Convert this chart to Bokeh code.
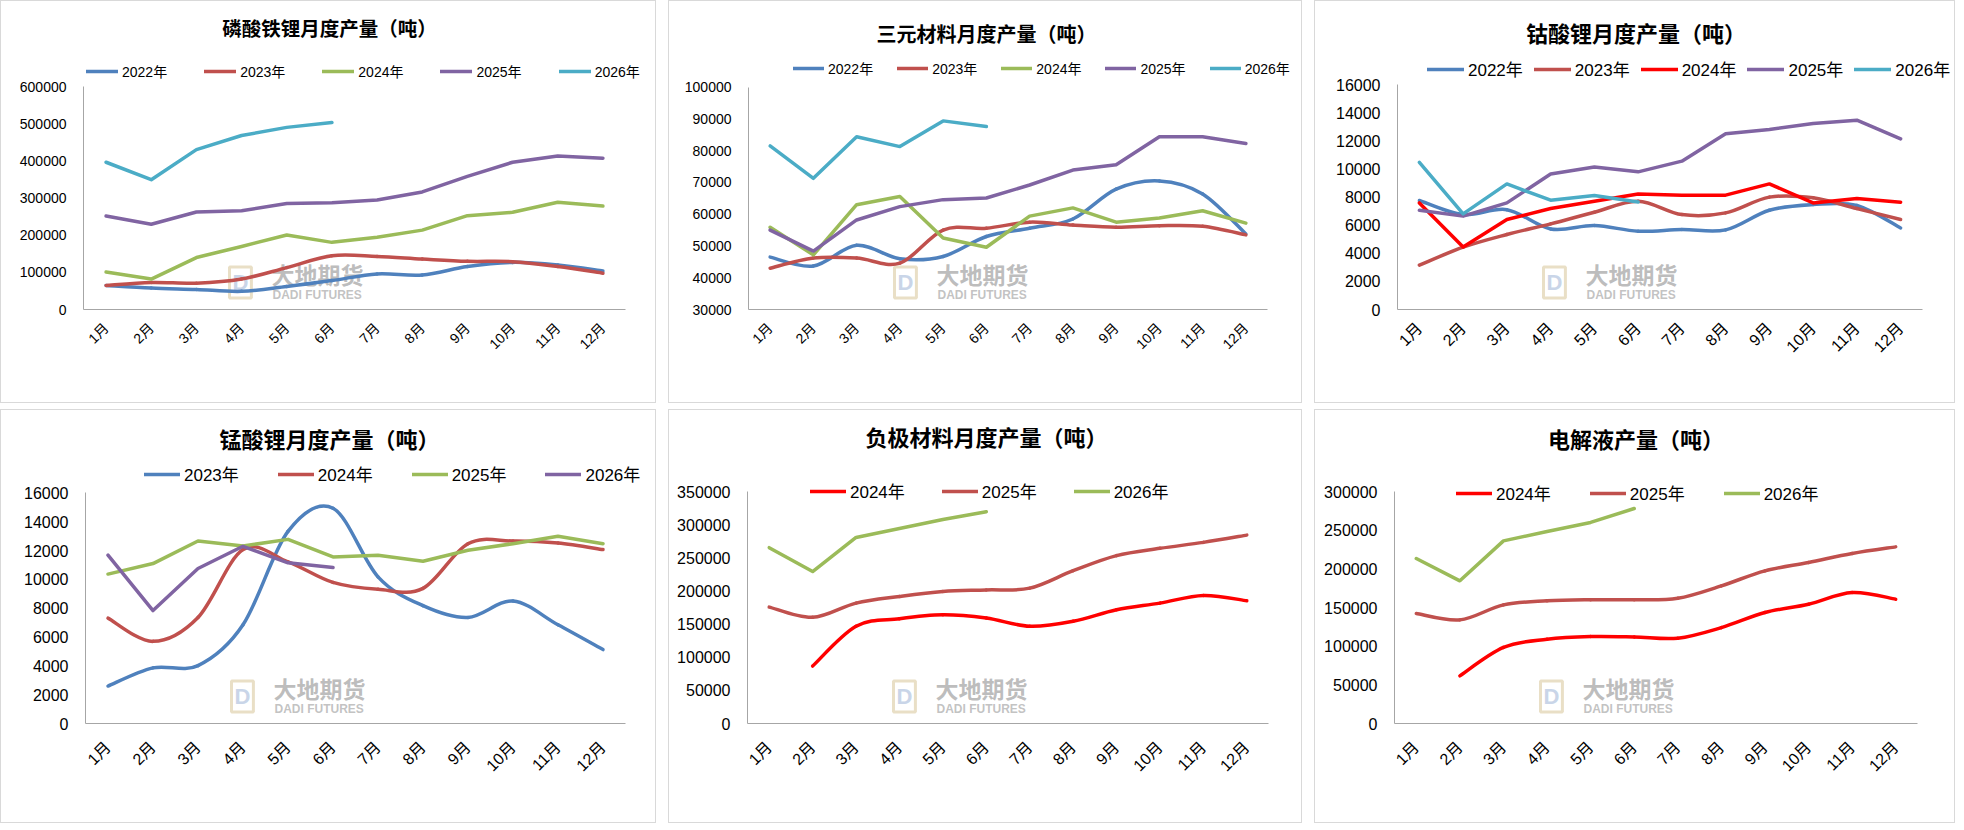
import math
from bokeh.plotting import figure
from bokeh.models import (Range1d, FixedTicker, NumeralTickFormatter, Label,
                          Legend, LegendItem, ColumnDataSource)
from bokeh.layouts import row, column
from bokeh.embed import file_html
from bokeh.resources import INLINE

months = ["1月", "2月", "3月", "4月", "5月", "6月", "7月", "8月", "9月", "10月", "11月", "12月"]

# 磷酸铁锂月度产量
lfp_years = ["2022年", "2023年", "2024年", "2025年", "2026年"]
lfp_2022 = [65000, 58000, 54000, 49000, 62000, 78000, 96000, 93000, 116000, 127000, 120000, 104000]
lfp_2023 = [65000, 73000, 71000, 82000, 113000, 145000, 143000, 136000, 130000, 129000, 116000, 98000]
lfp_2024 = [101000, 82000, 140000, 170000, 201000, 181000, 195000, 214000, 253000, 262000, 289000, 279000]
lfp_2025 = [252000, 230000, 263000, 266000, 286000, 288000, 295000, 317000, 359000, 397000, 414000, 408000]
lfp_2026 = [397000, 350000, 431000, 469000, 491000, 504000]
lfp_ticks = [0, 100000, 200000, 300000, 400000, 500000, 600000]

# 三元材料月度产量
ncm_years = ["2022年", "2023年", "2024年", "2025年", "2026年"]
ncm_2022 = [46500, 43700, 50200, 46000, 46700, 53000, 55600, 58500, 67900, 70500, 66400, 53800]
ncm_2023 = [43000, 46200, 46200, 44600, 55000, 55600, 57500, 56600, 55900, 56400, 56200, 53500]
ncm_2024 = [55900, 47200, 63000, 65600, 52500, 49600, 59400, 62000, 57500, 58800, 61100, 57200]
ncm_2025 = [55000, 48400, 58200, 62400, 64600, 65100, 69200, 73900, 75600, 84400, 84400, 82300]
ncm_2026 = [81500, 71300, 84400, 81300, 89400, 87600]
ncm_ticks = [30000, 40000, 50000, 60000, 70000, 80000, 90000, 100000]

# 钴酸锂月度产量
lco_years = ["2022年", "2023年", "2024年", "2025年", "2026年"]
lco_2022 = [7750, 6750, 7100, 5730, 5970, 5570, 5690, 5660, 7060, 7460, 7400, 5800]
lco_2023 = [3150, 4430, 5330, 6090, 6920, 7700, 6750, 6870, 7990, 7940, 7180, 6400]
lco_2024 = [7580, 4450, 6400, 7180, 7700, 8220, 8130, 8130, 8930, 7580, 7890, 7630]
lco_2025 = [7060, 6640, 7580, 9640, 10140, 9790, 10550, 12490, 12800, 13220, 13460, 12130]
lco_2026 = [10470, 6800, 8930, 7770, 8100, 7650]
lco_ticks = [0, 2000, 4000, 6000, 8000, 10000, 12000, 14000, 16000]

# 锰酸锂月度产量
lmo_years = ["2023年", "2024年", "2025年", "2026年"]
lmo_2023 = [2600, 3860, 4020, 6850, 13330, 14940, 10180, 8180, 7360, 8500, 6850, 5130]
lmo_2024 = [7310, 5700, 7360, 12070, 11220, 9790, 9310, 9380, 12480, 12670, 12530, 12070]
lmo_2025 = [10370, 11100, 12670, 12320, 12780, 11560, 11680, 11260, 12020, 12480, 12990, 12480]
lmo_2026 = [11680, 7840, 10760, 12300, 11150, 10830]
lmo_ticks = [0, 2000, 4000, 6000, 8000, 10000, 12000, 14000, 16000]

# 负极材料月度产量
anode_years = ["2024年", "2025年", "2026年"]
anode_2024 = [None, 86800, 147000, 158500, 164500, 159500, 147000, 154500, 172000, 182000, 193600, 185600]
anode_2025 = [176000, 160500, 182000, 192000, 199600, 202000, 204600, 231000, 253800, 264800, 273800, 284800]
anode_2026 = [265800, 229700, 281300, 294900, 308400, 320000]
anode_ticks = [0, 50000, 100000, 150000, 200000, 250000, 300000, 350000]

# 电解液产量
elec_years = ["2024年", "2025年", "2026年"]
elec_2024 = [None, 61600, 98300, 109000, 112500, 112000, 110300, 124000, 143500, 154300, 169400, 160800]
elec_2025 = [142200, 134000, 153400, 158600, 160000, 160000, 162000, 178000, 197400, 208200, 219800, 228400]
elec_2026 = [213400, 184500, 236200, 248300, 260000, 278000]
elec_ticks = [0, 50000, 100000, 150000, 200000, 250000, 300000]

BLUE = "#4F81BD"
RED = "#C0504D"
GREEN = "#9BBB59"
PURPLE = "#8064A2"
CYAN = "#4BACC6"
PURE_RED = "#FF0000"

NUM_FONT = "'Liberation Sans', 'Noto Sans CJK SC'"
CJK_FONT = "'Noto Sans CJK SC'"
LW = 3.5


def smooth_segments(xs, ys, k=1 / 6):
    # cubic bezier pieces through the points (Catmull-Rom style, like Excel smoothed lines)
    n = len(xs)
    seg = dict(x0=[], y0=[], x1=[], y1=[], cx0=[], cy0=[], cx1=[], cy1=[])
    for i in range(n - 1):
        a = max(i - 1, 0)
        b = min(i + 2, n - 1)
        seg["x0"].append(xs[i])
        seg["y0"].append(ys[i])
        seg["x1"].append(xs[i + 1])
        seg["y1"].append(ys[i + 1])
        seg["cx0"].append(xs[i] + (xs[i + 1] - xs[a]) * k)
        seg["cy0"].append(ys[i] + (ys[i + 1] - ys[a]) * k)
        seg["cx1"].append(xs[i + 1] - (xs[b] - xs[i]) * k)
        seg["cy1"].append(ys[i + 1] - (ys[b] - ys[i]) * k)
    return seg


def make_panel(title, years, series, colors, smooth, ticks, g):
    w, h, L, B, T, R = g["w"], g["h"], g["left"], g["bottom"], g["top"], g["right"]
    # the frame fills everything right of the y labels and above the x labels,
    # so that title and legend can sit inside it; the axes are bounded to the plot area
    ux = (w - R - L) / 12.0
    vy = (h - B - T) / float(ticks[-1] - ticks[0])
    p = figure(width=w, height=h, output_backend="svg", toolbar_location=None,
               x_range=Range1d(0.5, 12.5 + R / ux),
               y_range=Range1d(ticks[0], ticks[-1] + T / vy),
               min_border_left=L, min_border_right=0,
               min_border_top=0, min_border_bottom=B,
               background_fill_color="white", border_fill_color="white",
               styles={"border": "1px solid #d9d9d9"})
    p.outline_line_color = None
    p.xgrid.visible = False
    p.ygrid.visible = False

    fs = g["fs"]
    for ax in (p.xaxis, p.yaxis):
        ax.axis_line_color = "#a6a6a6"
        ax.axis_line_width = 1
        ax.major_tick_line_color = None
        ax.minor_tick_line_color = None
        ax.major_tick_out = 0
        ax.major_tick_in = 0
        ax.major_label_text_font = NUM_FONT
        ax.major_label_text_font_size = f"{fs}px"
        ax.major_label_text_color = "black"
    p.xaxis.ticker = FixedTicker(ticks=list(range(1, 13)))
    p.xaxis.major_label_overrides = {i + 1: m for i, m in enumerate(months)}
    p.xaxis.major_label_orientation = math.pi / 4
    p.xaxis.major_label_standoff = g["xs"]
    p.xaxis.bounds = (0.5, 12.5)
    p.yaxis.ticker = FixedTicker(ticks=ticks)
    p.yaxis.formatter = NumeralTickFormatter(format="0")
    p.yaxis.major_label_standoff = 17
    p.yaxis.bounds = (ticks[0], ticks[-1])

    # watermark
    p.add_layout(Label(x=146, y=27, x_units="screen", y_units="screen", text="D",
                       text_font="Liberation Sans", text_font_size="22px",
                       text_font_style="bold", text_color="#c9d5e8", text_baseline="middle",
                       border_line_color="#e9dfc6", border_line_width=3, padding=3,
                       level="underlay"))
    p.add_layout(Label(x=188, y=36, x_units="screen", y_units="screen", text="大地期货",
                       text_font=CJK_FONT, text_font_size="23px", text_font_style="bold",
                       text_color="#a0a0a0", text_alpha=0.7, text_baseline="middle",
                       level="underlay"))
    p.add_layout(Label(x=189, y=15, x_units="screen", y_units="screen", text="DADI FUTURES",
                       text_font="Liberation Sans", text_font_size="12px",
                       text_font_style="bold", text_color="#a8a8a8", text_alpha=0.7,
                       text_baseline="middle", level="underlay"))

    items = []
    for name, ys, col, sm in zip(years, series, colors, smooth):
        xs = [i + 1 for i, v in enumerate(ys) if v is not None]
        vs = [v for v in ys if v is not None]
        r = p.line(xs, vs, line_color=col, line_width=LW, line_cap="round", line_join="round")
        if sm:
            r.visible = False
            src = ColumnDataSource(smooth_segments(xs, vs))
            p.bezier(x0="x0", y0="y0", x1="x1", y1="y1", cx0="cx0", cy0="cy0",
                     cx1="cx1", cy1="cy1", source=src, line_color=col, line_width=LW,
                     line_cap="round")
        items.append(LegendItem(label=name, renderers=[r]))

    leg_h = 20
    legend = Legend(items=items, orientation="horizontal",
                    location=(g["lx"] - L, (h - B) - g["ly"] - leg_h / 2),
                    glyph_width=g["gw"], glyph_height=leg_h, label_height=leg_h,
                    label_standoff=4, spacing=g["sp"], padding=0, margin=0,
                    border_line_alpha=0, background_fill_alpha=0,
                    label_text_font=NUM_FONT, label_text_font_size=f"{g['lfs']}px",
                    label_text_color="black", label_text_baseline="middle")
    p.add_layout(legend, "center")

    p.add_layout(Label(x=w / 2 - L, y=(h - B) - g["ty"], x_units="screen",
                       y_units="screen", text=title, text_font=CJK_FONT,
                       text_font_size=f"{g['tfs']}px", text_font_style="bold",
                       text_color="black", text_align="center", text_baseline="middle"))
    return p


g1 = dict(w=656, h=403, left=82, right=32, top=86, bottom=93, fs=14, lfs=14, tfs=19.5,
          ty=28, ly=72, lx=85, gw=32, sp=37, xs=16)
g2 = dict(w=634, h=403, left=79, right=36, top=86, bottom=94, fs=14, lfs=14, tfs=20,
          ty=33, ly=68, lx=124, gw=31, sp=24, xs=16)
g3 = dict(w=641, h=403, left=82, right=34, top=83, bottom=95, fs=16, lfs=17, tfs=22,
          ty=30, ly=70, lx=112, gw=37, sp=11, xs=16)
g4 = dict(w=656, h=414, left=84, right=32, top=83, bottom=99, fs=16, lfs=17, tfs=22,
          ty=29, ly=68, lx=143, gw=36, sp=39, xs=21)
g5 = dict(w=634, h=414, left=78, right=35, top=82, bottom=99, fs=16, lfs=17, tfs=22,
          ty=27, ly=85, lx=141, gw=36, sp=37, xs=21)
g6 = dict(w=641, h=414, left=79, right=39, top=81, bottom=101, fs=16, lfs=17, tfs=22,
          ty=27, ly=85, lx=141, gw=36, sp=39, xs=21)

p1 = make_panel("磷酸铁锂月度产量（吨）", lfp_years,
                [lfp_2022, lfp_2023, lfp_2024, lfp_2025, lfp_2026],
                [BLUE, RED, GREEN, PURPLE, CYAN], [True, True, False, False, False], lfp_ticks, g1)
p2 = make_panel("三元材料月度产量（吨）", ncm_years,
                [ncm_2022, ncm_2023, ncm_2024, ncm_2025, ncm_2026],
                [BLUE, RED, GREEN, PURPLE, CYAN], [True, True, False, False, False], ncm_ticks, g2)
p3 = make_panel("钴酸锂月度产量（吨）", lco_years,
                [lco_2022, lco_2023, lco_2024, lco_2025, lco_2026],
                [BLUE, RED, PURE_RED, PURPLE, CYAN], [True, True, False, False, False], lco_ticks, g3)
p4 = make_panel("锰酸锂月度产量（吨）", lmo_years,
                [lmo_2023, lmo_2024, lmo_2025, lmo_2026],
                [BLUE, RED, GREEN, PURPLE], [True, True, False, False], lmo_ticks, g4)
p5 = make_panel("负极材料月度产量（吨）", anode_years,
                [anode_2024, anode_2025, anode_2026],
                [PURE_RED, RED, GREEN], [True, True, False], anode_ticks, g5)
p6 = make_panel("电解液产量（吨）", elec_years,
                [elec_2024, elec_2025, elec_2026],
                [PURE_RED, RED, GREEN], [True, True, False], elec_ticks, g6)

layout = column(row(p1, p2, p3, spacing=12), row(p4, p5, p6, spacing=12), spacing=6)

open("out.html", "w").write(file_html(layout, INLINE))
